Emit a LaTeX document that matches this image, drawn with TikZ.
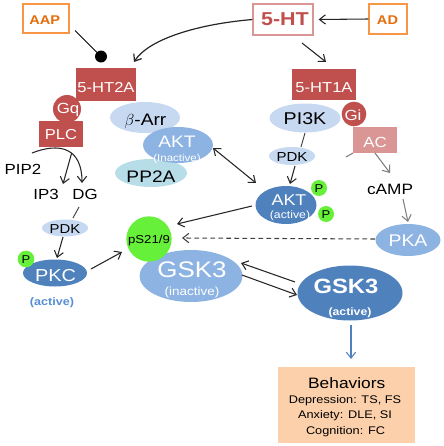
\documentclass[tikz,border=0pt]{standalone}
\usepackage{fontspec}
\setmainfont[FakeStretch=1.15]{Liberation Sans}
\usetikzlibrary{shapes.geometric,arrows.meta,calc}
\definecolor{redbox}{HTML}{C0504D}
\definecolor{redlight}{HTML}{D99694}
\definecolor{orangeT}{HTML}{E46C0A}
\definecolor{orangeB}{HTML}{F79646}
\definecolor{bluelight}{HTML}{C6D9F1}
\definecolor{bluemid}{HTML}{8DB3E2}
\definecolor{bluedark}{HTML}{4F81BD}
\definecolor{cyanlight}{HTML}{B7DEE8}
\definecolor{greenP}{HTML}{66F03A}
\definecolor{peach}{HTML}{FBD0AA}
\definecolor{activeblue}{HTML}{558ED5}
\definecolor{grayarr}{HTML}{808080}
\definecolor{dashgray}{HTML}{404040}
\newcommand{\fz}[1]{\fontsize{#1pt}{#1pt}\selectfont}
\tikzset{
  rbox/.style={rectangle, fill=redbox, inner sep=0pt},
  obox/.style={rectangle, draw=orangeB, line width=0.9pt, fill=white, inner sep=0pt},
  ell/.style={ellipse, inner sep=0pt},
  rc/.style={circle, fill=redbox, inner sep=0pt},
  pc/.style={circle, fill=greenP, inner sep=0pt},
  lbl/.style={anchor=base, inner sep=0pt},
  tip/.tip={Straight Barb[length=4.5pt,width=7pt]},
  arr/.style={-tip, line width=0.8pt, draw=black!85},
  darr/.style={tip-tip, line width=0.8pt, draw=black!85},
  garr/.style={-tip, line width=0.8pt, draw=grayarr},
  ln/.style={line width=0.7pt, draw=black!75},
}
\begin{document}
\begin{tikzpicture}[x=0.75pt,y=-0.75pt]
\useasboundingbox (0,0) rectangle (443,446);
% ---------- shapes ----------
\node[obox, minimum width=34.5pt, minimum height=21.75pt] (AAP) at (46,18.5) {};
\node[rectangle, draw=redlight, line width=0.9pt, inner sep=0pt, minimum width=45pt, minimum height=23.25pt] (HT) at (283,19.5) {};
\node[obox, minimum width=28.5pt, minimum height=22.5pt] (AD) at (388,19) {};
\node[rbox, minimum width=45pt, minimum height=24.75pt] (HT2A) at (106,84.5) {};
\node[rbox, minimum width=33pt, minimum height=19.5pt] (PLC) at (61,134) {};
\node[rc, minimum size=21pt] (Gq) at (67,109) {};
\node[ell, fill=bluelight, minimum width=52.5pt, minimum height=23.25pt] (bArr) at (145,117.5) {};
\node[ell, fill=cyanlight, minimum width=54pt, minimum height=21pt] (PP2A) at (151,173) {};
\node[ell, fill=bluemid, minimum width=52.5pt, minimum height=27pt] (AKTi) at (178,145) {};
\node[rbox, minimum width=48pt, minimum height=23.25pt] (HT1A) at (324,84.5) {};
\node[ell, fill=bluelight, minimum width=53.25pt, minimum height=21.75pt] (PI3K) at (305,118) {};
\node[rectangle, fill=redlight, inner sep=0pt, minimum width=33pt, minimum height=19.5pt] (AC) at (375,140) {};
\node[rc, minimum size=18.5pt] (Gi) at (354,114) {};
\node[ell, fill=bluelight, minimum width=34.5pt, minimum height=13.5pt] (PDKr) at (292,156) {};
\node[ell, fill=bluedark, minimum width=45.75pt, minimum height=28.5pt] (AKTa) at (286,205) {};
\node[pc, minimum size=12pt] (P1) at (319,188) {};
\node[pc, minimum size=12pt] (P2) at (326,214) {};
\node[ell, fill=bluemid, minimum width=48.75pt, minimum height=24pt] (PKA) at (408,240) {};
\node[ell, fill=bluemid, minimum width=77.25pt, minimum height=39pt] (GSKi) at (191,276) {};
\node[pc, minimum size=34pt] (pS) at (149,239) {};
\node[ell, fill=bluedark, minimum width=78.75pt, minimum height=41.25pt] (GSKa) at (350,293) {};
\node[rectangle, fill=peach, inner sep=0pt, minimum width=102.75pt, minimum height=57pt] (Beh) at (346.5,405) {};
\node[ell, fill=bluelight, minimum width=34.5pt, minimum height=12.75pt] (PDKl) at (65,228) {};
\node[ell, fill=bluedark, minimum width=48pt, minimum height=20.25pt] (PKC) at (55,273) {};
\node[pc, minimum size=12.5pt] (Pl) at (26,259) {};
\node[circle, fill=black, inner sep=0pt, minimum size=9pt] (dot) at (101,56.5) {};
% ---------- texts ----------
\node[lbl, text=orangeT, font=\bfseries\fz{9.5}] (tAAP) at (44.7,24) {AAP};
\node[lbl, text=redbox, font=\bfseries\fz{14}] (tHT) at (285,26) {5-HT};
\node[lbl, text=orangeT, font=\bfseries\fz{9.5}] (tAD) at (387.5,24) {AD};
\node[lbl, text=white, font=\fz{10.8}] (tHT2A) at (106,92) {5-HT2A};
\node[lbl, text=white, font=\fz{11}] (tGq) at (68,113) {Gq};
\node[lbl, text=white, font=\fz{10.8}] (tPLC) at (61,139) {PLC};
\node[lbl, text=black, font=\fz{12.5}] (tbArr) at (145.5,125) {$\beta$-Arr};
\node[lbl, text=white, font=\fz{12.5}] (tAKTi) at (177,147) {AKT};
\node[lbl, text=white, font=\fz{7.5}] (tAKTi2) at (177,161.5) {(Inactive)};
\node[lbl, text=black, font=\fz{12.5}] (tPP2A) at (151,182) {PP2A};
\node[lbl, text=white, font=\fz{10.8}] (tHT1A) at (324,92) {5-HT1A};
\node[lbl, text=black, font=\fz{12.8}] (tPI3K) at (305,124) {PI3K};
\node[lbl, text=white, font=\fz{11}] (tGi) at (353,120) {Gi};
\node[lbl, text=white, font=\fz{11}] (tAC) at (375,147) {AC};
\node[lbl, text=black, font=\fz{9.8}] (tPDKr) at (292,161.5) {PDK};
\node[lbl, text=white, font=\fz{11.7}] (tAKTa) at (289,205) {AKT};
\node[lbl, text=white, font=\fz{8}] (tAKTa2) at (290,218) {(active)};
\node[lbl, text=black, font=\fz{8.5}] (tP1) at (319,192) {P};
\node[lbl, text=black, font=\fz{8.5}] (tP2) at (326,218) {P};
\node[lbl, text=black, font=\fz{11.25}] (cAMP) at (390,194) {cAMP};
\node[lbl, text=white, font=\fz{12.7}] (tPKA) at (408,246.5) {PKA};
\node[lbl, text=black, font=\fz{8.6}] (tpS) at (149,243.5) {pS21/9};
\node[lbl, text=white, font=\fz{16.9}] (tGSKi) at (192,277) {GSK3};
\node[lbl, text=white, font=\fz{8.8}] (tGSKi2) at (192,295) {(inactive)};
\node[lbl, text=white, font=\bfseries\fz{15.5}] (tGSKa) at (346,293) {GSK3};
\node[lbl, text=white, font=\bfseries\fz{8}] (tGSKa2) at (350,315) {(active)};
\node[lbl, text=black, font=\fz{11.3}] (tBeh) at (346.7,388) {Behaviors};
\node[lbl, text=black, font=\fz{8.3}] (tBeh1) at (345,403) {Depression: TS, FS};
\node[lbl, text=black, font=\fz{8.3}] (tBeh2) at (345,418.5) {Anxiety: DLE, SI};
\node[lbl, text=black, font=\fz{8.3}] (tBeh3) at (345.5,434) {Cognition: FC};
\node[lbl, text=black, font=\fz{11}] (PIP2) at (23,174) {PIP2};
\node[lbl, text=black, font=\fz{11}] (IP3) at (46,199) {IP3};
\node[lbl, text=black, font=\fz{11}] (DG) at (85,199) {DG};
\node[lbl, text=black, font=\fz{9.7}] (tPDKl) at (65,233) {PDK};
\node[lbl, text=white, font=\fz{13}] (tPKC) at (55.5,281.5) {PKC};
\node[lbl, text=black, font=\fz{8.5}] (tPl) at (26,263.5) {P};
\node[lbl, text=activeblue, font=\bfseries\fz{8.2}] (actl) at (52,305) {(active)};
% ---------- connectors ----------
\draw[arr] (AD.west) -- ($(HT.east)+(5,0)$);
\draw[arr, line width=0.9pt] (HT.west) .. controls +(-58,5) and +(14,-22) .. ($(HT2A)+(28,-22.5)$);
\draw[arr] ($(HT)+(19,23.5)$) -- ($(HT1A)+(2,-22.5)$);
\draw[ln, draw=black] ($(AAP)+(29,12)$) -- (dot.center);
\draw[ln] ($(PI3K)+(0,15)$) -- ($(PDKr)+(9,-9)$);
\draw[arr] ($(PDKr)+(3,10)$) -- ($(AKTa)+(4,-21)$);
\draw[darr] ($(AKTi)+(35,3)$) -- ($(AKTa)+(-30,-22)$);
\draw[arr] ($(AKTa)+(-34,1)$) -- ($(pS)+(28,-15)$);
\draw[garr] ($(AC)+(0,13)$) -- ($(cAMP.base)+(0,-21)$);
\draw[line width=0.8pt, draw=grayarr] ($(AC)+(-29,17)$) -- ($(AC)+(-22,13)$);
\draw[garr] ($(cAMP.base)+(13,5)$) -- ($(PKA)+(0,-18)$);
\draw[arr, draw=dashgray, dash pattern=on 3.5pt off 2.5pt] ($(PKA)+(-33,-1)$) -- ($(pS)+(33,-1)$);
\draw[arr] ($(PKC)+(36,-4)$) -- ($(pS)+(-27,13)$);
\draw[ln] ($(DG.base)+(-6,8)$) -- ($(PDKl)+(8,-10)$);
\draw[arr] ($(PDKl)+(-2,9)$) -- ($(PKC)+(2,-15)$);
\draw[arr] ($(PIP2.base)+(9,-21)$) .. controls +(28,-11) and +(0,-35) .. ($(DG.base)+(-3,-16)$) coordinate[pos=0.58] (split);
\draw[arr] (split) -- ($(IP3.base)+(17,-15)$);
\draw[arr] ($(GSKa)+(-55,-11)$) -- ($(GSKi)+(50,-13)$);
\draw[arr] ($(GSKi)+(51,-1)$) -- ($(GSKa)+(-53,2)$);
\draw[arr, draw=bluedark] ($(GSKa)+(1,32)$) -- ($(Beh)+(4.5,-46)$);
\end{tikzpicture}
\end{document}
